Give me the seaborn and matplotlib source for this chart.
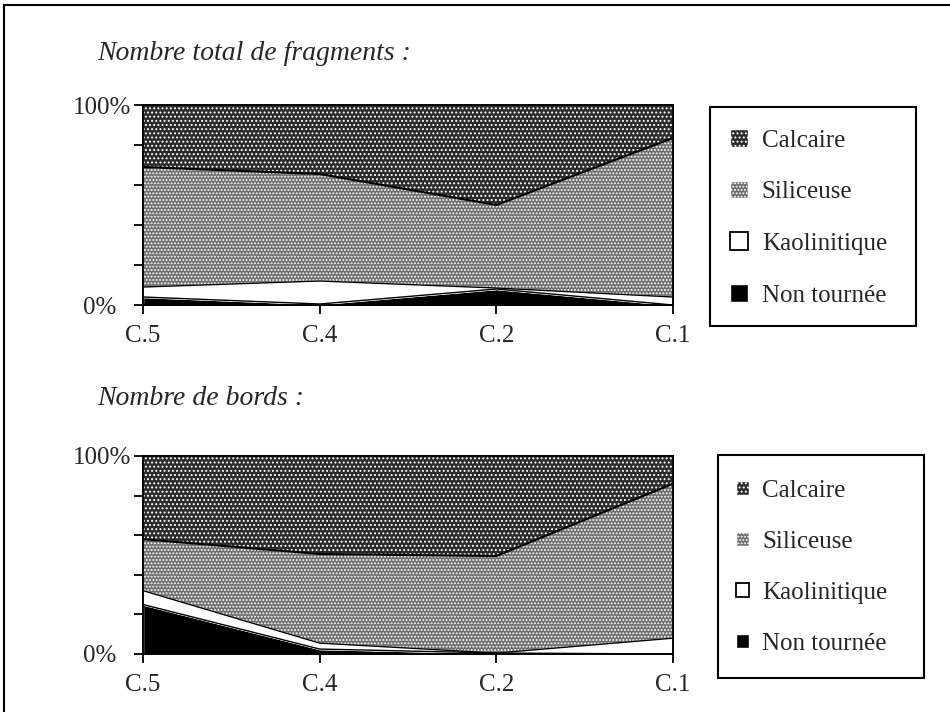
import numpy as np
import matplotlib.pyplot as plt
import seaborn as sns
from matplotlib.patches import Patch, Rectangle
from matplotlib.lines import Line2D
from matplotlib.transforms import ScaledTranslation

# --- données (en %) ---
sites = ['C.5', 'C.4', 'C.2', 'C.1']
legend_labels = ['Calcaire', 'Siliceuse', 'Kaolinitique', 'Non tournée']

# Nombre total de fragments
frag_non_tournee = [4, 0.5, 8, 0]
frag_kaolinitique = [5, 11.5, 0.5, 4]
frag_siliceuse = [60, 53.5, 41.5, 79.5]
frag_calcaire = [31, 34.5, 50, 16.5]

# Nombre de bords
bords_non_tournee = [25, 2.5, 0.5, 0]
bords_kaolinitique = [7, 3, 0, 8]
bords_siliceuse = [26, 45, 49, 78]
bords_calcaire = [42, 49.5, 50.5, 14]

sns.set_theme(style='white')
plt.rcParams['font.family'] = ['Liberation Serif', 'DejaVu Serif']
plt.rcParams['hatch.color'] = 'white'
plt.rcParams['hatch.linewidth'] = 0.9

# couleurs / trames (du bas vers le haut)
fills = ['black', 'white', '#6e6e6e', '#2b2b2b']
hatches = [None, None, '.....', '....']


def draw_panel(ax, fig, non_tournee, kaolinitique, siliceuse, calcaire):
    x = np.arange(len(sites))
    series = [non_tournee, kaolinitique, siliceuse, calcaire]
    colls = ax.stackplot(x, *series, colors=fills)
    for c, h in zip(colls, hatches):
        if h:
            c.set_hatch(h)
    # contours entre les couches
    cum = np.cumsum(np.array(series, dtype=float), axis=0)
    for level, lw in zip(cum[:-1], [1.0, 1.0, 1.6]):
        sns.lineplot(x=x, y=level, color='black', lw=lw, ax=ax)
    ax.set_xlim(0, len(sites) - 1)
    ax.set_ylim(0, 100)
    ax.set_yticks([0, 20, 40, 60, 80, 100])
    ax.set_yticklabels(['0%', '', '', '', '', '100%'])
    ax.set_xticks(x)
    ax.set_xticklabels(sites)
    ax.tick_params(axis='both', direction='out', length=6.5, width=1.3,
                   color='black', left=True, bottom=True, labelsize=18)
    ax.tick_params(axis='y', pad=2)
    ax.tick_params(axis='x', pad=8)
    for s in ax.spines.values():
        s.set_color('black')
        s.set_linewidth(1.4)
    ax.set_xlabel('')
    ax.set_ylabel('')
    # le "0%" est plus écarté de l'axe que le "100%"
    lab0 = ax.get_yticklabels()[0]
    lab0.set_transform(lab0.get_transform()
                       + ScaledTranslation(-15 / 100, 0, fig.dpi_scale_trans))


fig = plt.figure(figsize=(9.5, 7.12), dpi=100)
W, H = 950, 712
ax1 = fig.add_axes([143 / W, 1 - 305 / H, 530 / W, 200 / H])
ax2 = fig.add_axes([143 / W, 1 - 654 / H, 530 / W, 198 / H])

draw_panel(ax1, fig, frag_non_tournee, frag_kaolinitique, frag_siliceuse, frag_calcaire)
draw_panel(ax2, fig, bords_non_tournee, bords_kaolinitique, bords_siliceuse, bords_calcaire)

fig.text(97 / W, 1 - 60 / H, 'Nombre total de fragments :', style='italic',
         fontsize=20, va='baseline', ha='left')
fig.text(97 / W, 1 - 405 / H, 'Nombre de bords :', style='italic',
         fontsize=20, va='baseline', ha='left')

# cadre de la page (haut et gauche)
fig.add_artist(Line2D([4 / W, 1], [1 - 5 / H, 1 - 5 / H], transform=fig.transFigure,
                      color='black', lw=1.5))
fig.add_artist(Line2D([4 / W, 4 / W], [0, 1 - 5 / H], transform=fig.transFigure,
                      color='black', lw=1.5))

# légendes
handles = [
    Patch(facecolor=fills[3], hatch=hatches[3]),
    Patch(facecolor=fills[2], hatch=hatches[2]),
    Patch(facecolor='white', edgecolor='black', linewidth=1.3),
    Patch(facecolor='black'),
]
# (cadre x0, y0, x1, y1, ancre x, ancre y, taille du carré)
boxes = [(710, 107, 916, 326, 720, 119, 0.72),
         (718, 455, 924, 678, 726, 470, 0.5)]
for (x0, y0, x1, y1, lx, ly, hs) in boxes:
    fig.add_artist(Rectangle((x0 / W, 1 - y1 / H), (x1 - x0) / W, (y1 - y0) / H,
                             transform=fig.transFigure, fill=False,
                             edgecolor='black', lw=1.5))
    fig.legend(handles, legend_labels, loc='upper left',
               bbox_to_anchor=(lx / W, 1 - ly / H),
               frameon=False, fontsize=18, handlelength=hs, handleheight=hs,
               handletextpad=0.55, labelspacing=1.16, borderaxespad=0)

fig.savefig('out.png', dpi=100)
